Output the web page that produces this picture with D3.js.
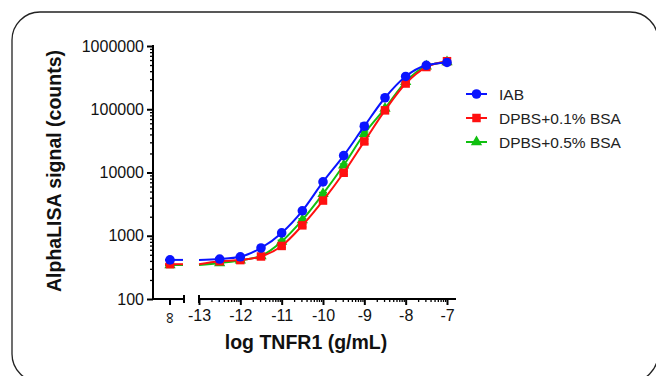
<!DOCTYPE html>
<html>
<head>
<meta charset="utf-8">
<script src="https://d3js.org/d3.v7.min.js"></script>
<style>
  body { margin: 0; background: #fff; }
  svg { display: block; font-family: "Liberation Sans", Arial, sans-serif; }
  .tick text { font-size: 16px; fill: #111; }
</style>
</head>
<body>
<svg width="656" height="376"></svg>
<script>
// concentrations (log g/mL); the first point of each series is the blank (∞)
var logConc = [-12.5, -12, -11.5, -11, -10.5, -10, -9.5, -9, -8.5, -8, -7.5, -7];

var iabBlank = 415;
var iab = [428, 465, 640, 1110, 2480, 7100, 18500, 54000, 152000, 330000, 495000, 550000];
var iabErr = [15, 15, 20, 40, 100, 300, 800, 6000, 6000, 12000, 15000, 30000];

var bsa01Blank = 355;
var bsa01 = [395, 412, 470, 690, 1460, 3600, 9900, 31000, 96000, 255000, 465000, 575000];
var bsa01Err = [15, 15, 20, 40, 80, 250, 600, 2500, 5000, 12000, 15000, 25000];

var bsa05Blank = 345;
var bsa05 = [370, 410, 480, 810, 1780, 4600, 13000, 41000, 103000, 272000, 480000, 560000];
var bsa05Err = [10, 15, 20, 40, 80, 250, 600, 2500, 5000, 12000, 15000, 25000];

var seriesNames = ["IAB", "DPBS+0.1% BSA", "DPBS+0.5% BSA"];
var seriesColors = ["#0a14ff", "#ff1010", "#10c010"];
var seriesShapes = [d3.symbolCircle, d3.symbolSquare, d3.symbolTriangle];

var yTickValues = [100, 1000, 10000, 100000, 1000000];
var xTickValues = [-13, -12, -11, -10, -9, -8, -7];

var svg = d3.select("svg");

// rounded frame
svg.append("rect")
  .attr("x", 12).attr("y", 12)
  .attr("width", 646).attr("height", 370)
  .attr("rx", 28).attr("ry", 28)
  .attr("fill", "none").attr("stroke", "#222").attr("stroke-width", 1.3);

var axisX = 153, axisY = 299;
var infX = 170, breakL = 184, breakR = 199, axisEnd = 456;

var x = d3.scaleLinear().domain([-13, -7]).range([199, 447]);
var y = d3.scaleLog().domain([100, 1000000]).range([299, 46]);

// y axis
var yAxis = svg.append("g")
  .attr("transform", "translate(" + axisX + ",0)")
  .call(d3.axisLeft(y).tickValues(yTickValues).tickFormat(d3.format("d")).tickSize(6).tickSizeOuter(0).tickPadding(3));
yAxis.select(".domain").remove();
yAxis.selectAll("line").attr("stroke", "#000").attr("stroke-width", 2);

var yMinor = y.ticks().filter(function(v) { return yTickValues.indexOf(v) < 0; });
var yMinorAxis = svg.append("g")
  .attr("transform", "translate(" + axisX + ",0)")
  .call(d3.axisLeft(y).tickValues(yMinor).tickFormat("").tickSize(3).tickSizeOuter(0));
yMinorAxis.select(".domain").remove();
yMinorAxis.selectAll("line").attr("stroke", "#000").attr("stroke-width", 1.3);

svg.append("line")
  .attr("x1", axisX).attr("x2", axisX)
  .attr("y1", y(1000000) - 1).attr("y2", axisY + 1)
  .attr("stroke", "#000").attr("stroke-width", 2);

// x axis, left part (blank)
svg.append("line")
  .attr("x1", axisX).attr("x2", breakL).attr("y1", axisY).attr("y2", axisY)
  .attr("stroke", "#000").attr("stroke-width", 2);
svg.append("line")
  .attr("x1", breakL).attr("x2", breakL).attr("y1", axisY - 4).attr("y2", axisY + 4)
  .attr("stroke", "#000").attr("stroke-width", 2);
svg.append("line")
  .attr("x1", infX).attr("x2", infX).attr("y1", axisY).attr("y2", axisY + 6)
  .attr("stroke", "#000").attr("stroke-width", 2);
svg.append("text")
  .attr("transform", "translate(" + (infX + 1) + "," + (axisY + 19) + ") rotate(90)")
  .attr("text-anchor", "middle").attr("dy", "0.35em")
  .style("font-size", "16px").attr("fill", "#111")
  .text("∞");

// x axis, right part
svg.append("line")
  .attr("x1", breakR).attr("x2", axisEnd).attr("y1", axisY).attr("y2", axisY)
  .attr("stroke", "#000").attr("stroke-width", 2);
svg.append("line")
  .attr("x1", breakR).attr("x2", breakR).attr("y1", axisY - 4).attr("y2", axisY + 4)
  .attr("stroke", "#000").attr("stroke-width", 2);

var xAxis = svg.append("g")
  .attr("transform", "translate(0," + axisY + ")")
  .call(d3.axisBottom(x).tickValues(xTickValues).tickFormat(function(d) { return String(d); })
    .tickSize(6).tickSizeOuter(0).tickPadding(5));
xAxis.select(".domain").remove();
xAxis.selectAll("line").attr("stroke", "#000").attr("stroke-width", 2);

var xMinor = [];
xTickValues.slice(0, -1).forEach(function(t) {
  d3.range(2, 10).forEach(function(k) { xMinor.push(t + Math.log10(k)); });
});
var xMinorAxis = svg.append("g")
  .attr("transform", "translate(0," + axisY + ")")
  .call(d3.axisBottom(x).tickValues(xMinor).tickFormat("").tickSize(3).tickSizeOuter(0));
xMinorAxis.select(".domain").remove();
xMinorAxis.selectAll("line").attr("stroke", "#000").attr("stroke-width", 1.3);

// axis titles
svg.append("text")
  .attr("x", 306).attr("y", 349)
  .attr("text-anchor", "middle")
  .style("font-size", "19.5px").style("font-weight", "bold").attr("fill", "#111")
  .text("log TNFR1 (g/mL)");

svg.append("text")
  .attr("transform", "translate(61,171) rotate(-90)")
  .attr("text-anchor", "middle")
  .style("font-size", "19.5px").style("font-weight", "bold").attr("fill", "#111")
  .text("AlphaLISA signal (counts)");

// series
var series = [
  { blank: iabBlank, vals: iab, err: iabErr },
  { blank: bsa01Blank, vals: bsa01, err: bsa01Err },
  { blank: bsa05Blank, vals: bsa05, err: bsa05Err }
];
series.forEach(function(s, i) {
  s.name = seriesNames[i]; s.color = seriesColors[i]; s.shape = seriesShapes[i];
  s.points = logConc.map(function(c, j) { return { c: c, v: s.vals[j], e: s.err[j] }; });
});

var line = d3.line()
  .x(function(d) { return x(d.c); })
  .y(function(d) { return y(d.v); })
  .curve(d3.curveMonotoneX);

var symbolSizes = [72, 72, 55];

// draw green first, then red, then blue on top
[2, 1, 0].forEach(function(i) {
  var s = series[i];
  var g = svg.append("g");

  // blank segment
  g.append("line")
    .attr("x1", infX - 5).attr("x2", breakL - 1)
    .attr("y1", y(s.blank)).attr("y2", y(s.blank))
    .attr("stroke", s.color).attr("stroke-width", 2);

  // curve, starting at the break with the blank level
  g.append("path")
    .datum([{ c: -13, v: s.blank }].concat(s.points))
    .attr("fill", "none").attr("stroke", s.color).attr("stroke-width", 2)
    .attr("d", line);

  // error bars
  g.selectAll(".err").data(s.points).enter().append("path")
    .attr("fill", "none").attr("stroke", s.color).attr("stroke-width", 1.5)
    .attr("d", function(d) {
      var cx = x(d.c), y1 = y(d.v + d.e), y2 = y(Math.max(d.v - d.e, 1));
      return "M" + (cx - 4) + "," + y1 + "H" + (cx + 4) + "M" + cx + "," + y1 + "V" + y2 +
             "M" + (cx - 4) + "," + y2 + "H" + (cx + 4);
    });

  // markers
  var sym = d3.symbol().type(s.shape).size(symbolSizes[i]);
  g.selectAll(".pt").data([{ x: infX, v: s.blank }].concat(s.points.map(function(d) { return { x: x(d.c), v: d.v }; })))
    .enter().append("path")
    .attr("transform", function(d) { return "translate(" + d.x + "," + y(d.v) + ")"; })
    .attr("d", sym)
    .attr("fill", s.color);
});

// legend
var legend = svg.append("g").attr("transform", "translate(466,94)");
series.forEach(function(s, i) {
  var row = legend.append("g").attr("transform", "translate(0," + (i * 24) + ")");
  row.append("line").attr("x1", 0).attr("x2", 21).attr("y1", 0).attr("y2", 0)
    .attr("stroke", s.color).attr("stroke-width", 2);
  row.append("path").attr("transform", "translate(10.5,0)")
    .attr("d", d3.symbol().type(s.shape).size(symbolSizes[i])())
    .attr("fill", s.color);
  row.append("text").attr("x", 33).attr("y", 0).attr("dy", "0.36em")
    .style("font-size", "15.5px").attr("fill", "#222")
    .text(s.name);
});
</script>
</body>
</html>
